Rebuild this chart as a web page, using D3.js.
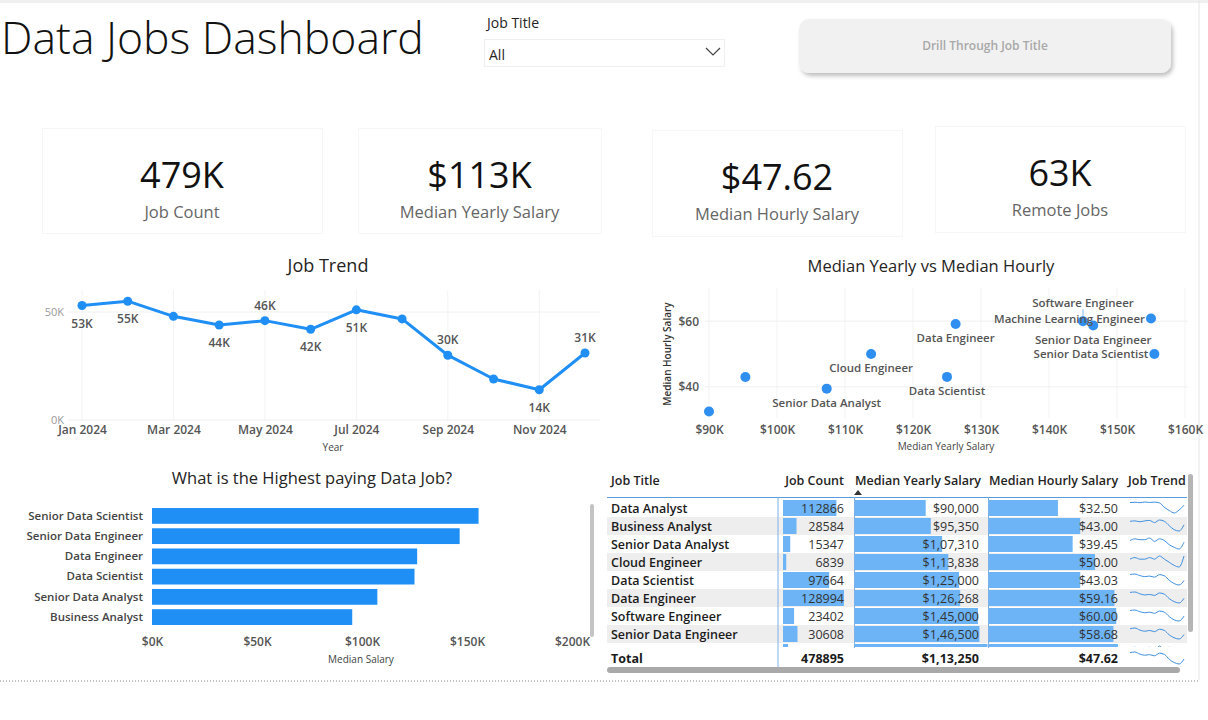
<!DOCTYPE html>
<meta charset="utf-8">
<style>
body { margin: 0; background: #fff; }
svg { font-family: "Open Sans", "Noto Sans", sans-serif; display: block; }
.bold { font-weight: 600; }
</style>
<svg width="1208" height="720"></svg>
<script src="https://cdn.jsdelivr.net/npm/d3@7"></script>
<script>

// ---- data ----
var months = ["Jan 2024","Feb 2024","Mar 2024","Apr 2024","May 2024","Jun 2024",
              "Jul 2024","Aug 2024","Sep 2024","Oct 2024","Nov 2024","Dec 2024"];
var monthlyJobs = [53000, 55000, 48000, 44000, 46000, 42000, 51000, 46800, 30000, 19000, 14000, 31000];
var trendLabelPos = ["below","below",null,"below","above","below","below",null,"above",null,"below","above"];

var kpiValues = ["479K", "$113K", "$47.62", "63K"];
var kpiLabels = ["Job Count", "Median Yearly Salary", "Median Hourly Salary", "Remote Jobs"];

var jobTitles = ["Data Analyst","Business Analyst","Senior Data Analyst","Cloud Engineer","Data Scientist",
                 "Data Engineer","Software Engineer","Senior Data Engineer","Machine Learning Engineer","Senior Data Scientist"];
var jobCount = [112866, 28584, 15347, 6839, 97664, 128994, 23402, 30608, 10573, 24018];
var medianYearly = [90000, 95350, 107310, 113838, 125000, 126268, 145000, 146500, 155000, 155500];
var medianHourly = [32.50, 43.00, 39.45, 50.00, 43.03, 59.16, 60.00, 58.68, 60.80, 50.00];
var yearlyText = ["$90,000","$95,350","$1,07,310","$1,13,838","$1,25,000","$1,26,268","$1,45,000","$1,46,500","$1,55,000","$1,55,500"];
var totalCount = "478895", totalYearly = "$1,13,250", totalHourly = "$47.62";

// sparkline series per row (thousands, Jan..Dec)
var sparkData = [
  [12.5,12.8,12.4,13.0,12.6,12.9,12.2,8.4,5.6,3.4,6.0,10.2],
  [3.2,3.3,3.1,3.3,3.4,2.9,3.5,3.2,2.2,1.3,1.0,2.4],
  [1.6,1.8,1.7,1.7,1.9,1.5,1.8,1.6,1.1,0.8,0.6,1.4],
  [0.7,0.8,0.7,0.7,0.8,0.7,0.9,0.7,0.5,0.3,0.2,0.9],
  [11.0,11.4,10.2,9.4,9.8,9.0,10.9,10.0,6.6,4.1,3.0,6.4],
  [14.6,15.0,13.2,12.0,12.5,11.5,14.0,12.8,8.2,5.2,3.8,8.6],
  [2.6,2.7,2.4,2.2,2.3,2.1,2.5,2.3,1.5,0.9,0.7,1.6],
  [3.4,3.6,3.1,2.8,3.0,2.7,3.3,3.0,1.9,1.2,0.9,2.0],
  [1.2,1.3,1.1,1.2,1.3,1.0,1.4,1.1,1.3,0.6,0.5,1.0],
  [53,55,48,44,46,42,51,46.8,30,19,14,31]
];

var barJobs = ["Senior Data Scientist","Senior Data Engineer","Data Engineer","Data Scientist","Senior Data Analyst","Business Analyst"];
var barSalary = [155500, 146500, 126268, 125000, 107310, 95350];

var blue = "#1f8ff5";
var svg = d3.select("svg");

// ---- page frame ----
svg.append("rect").attr("x", 0).attr("y", 0).attr("width", 1208).attr("height", 3).attr("fill", "#f0f0f0");
svg.append("line").attr("x1", 1199).attr("x2", 1199).attr("y1", 0).attr("y2", 680)
    .attr("stroke", "#e4e4e4");
svg.append("line").attr("x1", 0).attr("x2", 1198).attr("y1", 681).attr("y2", 681)
    .attr("stroke", "#888").attr("stroke-dasharray", "1,2");

// ---- header ----
svg.append("text").attr("x", 1).attr("y", 54)
    .attr("font-size", 44.5).attr("font-weight", 300).attr("fill", "#111")
    .text("Data Jobs Dashboard");

svg.append("text").attr("x", 487).attr("y", 28).attr("font-size", 14).attr("fill", "#252423")
    .text("Job Title");
svg.append("rect").attr("x", 484.5).attr("y", 39.5).attr("width", 240).attr("height", 27)
    .attr("fill", "#fff").attr("stroke", "#efefef");
svg.append("text").attr("x", 489).attr("y", 60).attr("font-size", 14).attr("fill", "#252423").text("All");
svg.append("path").attr("d", "M706,48 L713,55 L720,48").attr("fill", "none")
    .attr("stroke", "#444").attr("stroke-width", 1.2);

var defs = svg.append("defs");
var shadow = defs.append("filter").attr("id", "shadow").attr("x", "-10%").attr("y", "-20%")
    .attr("width", "120%").attr("height", "150%");
shadow.append("feDropShadow").attr("dx", 2).attr("dy", 3).attr("stdDeviation", 2)
    .attr("flood-color", "#000").attr("flood-opacity", 0.25);
svg.append("rect").attr("x", 799).attr("y", 19).attr("width", 372).attr("height", 54).attr("rx", 10)
    .attr("fill", "#f1f1f1").attr("filter", "url(#shadow)");
svg.append("text").attr("x", 985).attr("y", 50).attr("text-anchor", "middle")
    .attr("font-size", 12).attr("font-weight", 600).attr("fill", "#a8a8a8")
    .text("Drill Through Job Title");

// ---- KPI cards ----
var cardBoxes = [[42,128,280,105],[358,128,243,105],[652,130,250,106],[935,126,250,106]];
var cards = svg.selectAll(".card").data(kpiValues).enter().append("g").attr("class", "card");
cards.append("rect")
    .attr("x", function(d, i) { return cardBoxes[i][0] + 0.5; })
    .attr("y", function(d, i) { return cardBoxes[i][1] + 0.5; })
    .attr("width", function(d, i) { return cardBoxes[i][2]; })
    .attr("height", function(d, i) { return cardBoxes[i][3]; })
    .attr("fill", "#fff").attr("stroke", "#f6f6f6");
cards.append("text")
    .attr("x", function(d, i) { return cardBoxes[i][0] + cardBoxes[i][2] / 2; })
    .attr("y", function(d, i) { return cardBoxes[i][1] + 60; })
    .attr("text-anchor", "middle").attr("font-size", 36).attr("fill", "#111")
    .text(function(d) { return d; });
cards.append("text")
    .attr("x", function(d, i) { return cardBoxes[i][0] + cardBoxes[i][2] / 2; })
    .attr("y", function(d, i) { return cardBoxes[i][1] + 90; })
    .attr("text-anchor", "middle").attr("font-size", 16.5).attr("fill", "#666")
    .text(function(d, i) { return kpiLabels[i]; });

// ---- Job Trend line chart ----
var tx = d3.scalePoint().domain(months).range([82, 585]);
var ty = d3.scaleLinear().domain([0, 50000]).range([420, 312]);
var trend = svg.append("g");

trend.append("text").attr("x", 328).attr("y", 272).attr("text-anchor", "middle")
    .attr("font-size", 18).attr("fill", "#252423").text("Job Trend");

trend.selectAll(".vgrid").data(months.filter(function(d, i) { return i % 2 == 0; }))
  .enter().append("line")
    .attr("x1", function(d) { return tx(d); }).attr("x2", function(d) { return tx(d); })
    .attr("y1", 290).attr("y2", 420).attr("stroke", "#f3f3f3");
trend.selectAll(".hgrid").data(ty.ticks(1))
  .enter().append("line")
    .attr("x1", 68).attr("x2", 600)
    .attr("y1", function(d) { return ty(d); }).attr("y2", function(d) { return ty(d); })
    .attr("stroke", "#f0f0f0");

var yAxisT = trend.append("g").attr("transform", "translate(64,0)")
    .call(d3.axisLeft(ty).tickValues([0, 50000]).tickSize(0).tickPadding(0)
      .tickFormat(function(d) { return d / 1000 + "K"; }));
yAxisT.select(".domain").remove();
yAxisT.selectAll("text").attr("font-size", 11).attr("fill", "#9a9a9a")
    .attr("font-family", "Open Sans, sans-serif");

var xAxisT = trend.append("g").attr("transform", "translate(0,425)")
    .call(d3.axisBottom(tx).tickSize(0).tickPadding(0)
      .tickValues(months.filter(function(d, i) { return i % 2 == 0; })));
xAxisT.select(".domain").remove();
xAxisT.selectAll("text").attr("font-size", 12).attr("font-weight", 600).attr("fill", "#555")
    .attr("font-family", "Open Sans, sans-serif");

trend.append("text").attr("x", 333).attr("y", 451).attr("text-anchor", "middle")
    .attr("font-size", 10).attr("fill", "#444").text("Year");

var lineGen = d3.line().x(function(d, i) { return tx(months[i]); }).y(function(d) { return ty(d); });
trend.append("path").datum(monthlyJobs).attr("d", lineGen)
    .attr("fill", "none").attr("stroke", blue).attr("stroke-width", 3).attr("stroke-linejoin", "round");
trend.selectAll(".pt").data(monthlyJobs).enter().append("circle")
    .attr("cx", function(d, i) { return tx(months[i]); }).attr("cy", function(d) { return ty(d); })
    .attr("r", 4.5).attr("fill", blue);
trend.selectAll(".lbl").data(monthlyJobs).enter()
  .filter(function(d, i) { return trendLabelPos[i]; })
  .append("text")
    .attr("x", function(d, i) { return tx(months[monthlyJobs.indexOf(d)]); })
    .attr("y", function(d) { var i = monthlyJobs.indexOf(d);
        return ty(d) + (trendLabelPos[i] == "below" ? 22 : -11); })
    .attr("text-anchor", "middle").attr("font-size", 12).attr("font-weight", 600).attr("fill", "#555")
    .text(function(d) { return Math.round(d / 1000) + "K"; });

// ---- Scatter: Median Yearly vs Median Hourly ----
var sx = d3.scaleLinear().domain([90000, 160000]).range([709, 1185]);
var sy = d3.scaleLinear().domain([30.5, 69.5]).range([418, 290]);
var sc = svg.append("g");

sc.append("text").attr("x", 931).attr("y", 272).attr("text-anchor", "middle")
    .attr("font-size", 16.5).attr("fill", "#252423").text("Median Yearly vs Median Hourly");

sc.selectAll(".vg").data(sx.ticks(7)).enter().append("line")
    .attr("x1", function(d) { return sx(d); }).attr("x2", function(d) { return sx(d); })
    .attr("y1", 288).attr("y2", 418).attr("stroke", "#f3f3f3");
sc.selectAll(".hg").data([40, 60]).enter().append("line")
    .attr("x1", 705).attr("x2", 1188)
    .attr("y1", function(d) { return sy(d); }).attr("y2", function(d) { return sy(d); })
    .attr("stroke", "#f0f0f0");

var sxAxis = sc.append("g").attr("transform", "translate(0,425)")
    .call(d3.axisBottom(sx).ticks(7).tickSize(0).tickPadding(0)
      .tickFormat(function(d) { return "$" + d / 1000 + "K"; }));
sxAxis.select(".domain").remove();
sxAxis.selectAll("text").attr("font-size", 12).attr("font-weight", 600).attr("fill", "#555")
    .attr("font-family", "Open Sans, sans-serif");

var syAxis = sc.append("g").attr("transform", "translate(699,0)")
    .call(d3.axisLeft(sy).tickValues([40, 60]).tickSize(0).tickPadding(0)
      .tickFormat(function(d) { return "$" + d; }));
syAxis.select(".domain").remove();
syAxis.selectAll("text").attr("font-size", 12).attr("font-weight", 600).attr("fill", "#555")
    .attr("font-family", "Open Sans, sans-serif");

sc.append("text").attr("x", 946).attr("y", 450).attr("text-anchor", "middle")
    .attr("font-size", 10).attr("fill", "#444").text("Median Yearly Salary");
sc.append("text").attr("transform", "translate(671,354) rotate(-90)").attr("text-anchor", "middle")
    .attr("font-size", 10).attr("font-weight", 600).attr("fill", "#333").text("Median Hourly Salary");

// label placement: [dx, dy, anchor]
var scatterLabelPlace = {
  "Senior Data Analyst": [0, 18, "middle"],
  "Cloud Engineer": [0, 18, "middle"],
  "Data Engineer": [0, 18, "middle"],
  "Data Scientist": [0, 18, "middle"],
  "Software Engineer": [0, -14, "middle"],
  "Machine Learning Engineer": [-6, 4, "end"],
  "Senior Data Engineer": [0, 18, "middle"],
  "Senior Data Scientist": [-6, 4, "end"]
};
sc.append("line").attr("x1", sx(145000)).attr("x2", sx(145000))
    .attr("y1", sy(60) - 12).attr("y2", sy(60)).attr("stroke", "#6aa8e8").attr("stroke-width", 0.8);
sc.selectAll(".dot").data(jobTitles).enter().append("circle")
    .attr("cx", function(d, i) { return sx(medianYearly[i]); })
    .attr("cy", function(d, i) { return sy(medianHourly[i]); })
    .attr("r", 5).attr("fill", "#2f8ff0");
sc.selectAll(".slbl").data(jobTitles.filter(function(d) { return scatterLabelPlace[d]; }))
  .enter().append("text")
    .attr("x", function(d) { var i = jobTitles.indexOf(d); return sx(medianYearly[i]) + scatterLabelPlace[d][0]; })
    .attr("y", function(d) { var i = jobTitles.indexOf(d); return sy(medianHourly[i]) + scatterLabelPlace[d][1]; })
    .attr("text-anchor", function(d) { return scatterLabelPlace[d][2]; })
    .attr("font-size", 11.5).attr("font-weight", 600).attr("fill", "#555")
    .text(function(d) { return d; });

// ---- Bar chart ----
var bx = d3.scaleLinear().domain([0, 200000]).range([152, 572]);
var by = d3.scaleBand().domain(barJobs).range([506, 627]).paddingInner(0.22).paddingOuter(0.1);
var bc = svg.append("g");

bc.append("text").attr("x", 312).attr("y", 484).attr("text-anchor", "middle")
    .attr("font-size", 16.5).attr("fill", "#252423").text("What is the Highest paying Data Job?");

bc.selectAll(".bar").data(barSalary).enter().append("rect")
    .attr("x", bx(0)).attr("y", function(d, i) { return by(barJobs[i]); })
    .attr("width", function(d) { return bx(d) - bx(0); })
    .attr("height", by.bandwidth()).attr("fill", blue);

var byAxis = bc.append("g").attr("transform", "translate(143,0)")
    .call(d3.axisLeft(by).tickSize(0).tickPadding(0));
byAxis.select(".domain").remove();
byAxis.selectAll("text").attr("font-size", 11.5).attr("font-weight", 600).attr("fill", "#444")
    .attr("font-family", "Open Sans, sans-serif");

var bxAxis = bc.append("g").attr("transform", "translate(0,637)")
    .call(d3.axisBottom(bx).tickValues([0, 50000, 100000, 150000, 200000]).tickSize(0).tickPadding(0)
      .tickFormat(function(d) { return "$" + d / 1000 + "K"; }));
bxAxis.select(".domain").remove();
bxAxis.selectAll("text").attr("font-size", 12).attr("font-weight", 600).attr("fill", "#555")
    .attr("font-family", "Open Sans, sans-serif");
bc.append("text").attr("x", 361).attr("y", 663).attr("text-anchor", "middle")
    .attr("font-size", 10).attr("fill", "#444").text("Median Salary");
bc.append("rect").attr("x", 590).attr("y", 504).attr("width", 4).attr("height", 133).attr("rx", 2)
    .attr("fill", "#c4c4c4");

// ---- Table ----
var tb = svg.append("g").attr("font-size", 12.5);
var rowTop = 499, rowH = 18;
var tLeft = 607, tRight = 1187;
var colCountX = [783, 844], colYearX = [855, 988], colHourX = [989, 1118], colSparkX = [1130, 1184];

var hdr = [["Job Title", 611, "start"], ["Job Count", 844, "end"], ["Median Yearly Salary", 855, "start"],
           ["Median Hourly Salary", 989, "start"], ["Job Trend", 1128, "start"]];
tb.selectAll(".hdr").data(hdr).enter().append("text")
    .attr("x", function(d) { return d[1]; }).attr("y", 485).attr("text-anchor", function(d) { return d[2]; })
    .attr("font-weight", 600).attr("fill", "#252423").attr("font-size", 12.5)
    .text(function(d) { return d[0]; });
tb.append("path").attr("d", "M854,495 l4,-5 l4,5 z").attr("fill", "#333");

// only the first 8 rows fit; the 9th peeks out under them
defs.append("clipPath").attr("id", "rowsClip").append("rect")
    .attr("x", tLeft).attr("y", rowTop - 1).attr("width", tRight - tLeft).attr("height", 149);
var body = tb.append("g").attr("clip-path", "url(#rowsClip)");

var cScale = d3.scaleLinear().domain([0, d3.max(jobCount)]).range([0, colCountX[1] - colCountX[0]]);
var yScale = d3.scaleLinear().domain([15700, d3.max(medianYearly)]).range([0, colYearX[1] - colYearX[0]]);
var hScale = d3.scaleLinear().domain([0, 61.3]).range([0, 130]);
var spX = d3.scaleLinear().domain([0, 11]).range(colSparkX);

var rows = body.selectAll(".row").data(jobTitles.slice(0, 9)).enter().append("g")
    .attr("transform", function(d, i) { return "translate(0," + (rowTop + i * rowH) + ")"; });
rows.append("rect").attr("x", tLeft).attr("width", tRight - tLeft).attr("height", rowH)
    .attr("fill", function(d, i) { return i % 2 ? "#eeeeee" : "#fff"; });
rows.append("rect").attr("x", colCountX[0]).attr("y", 1).attr("height", rowH - 2)
    .attr("width", function(d, i) { return cScale(jobCount[i]); }).attr("fill", "#6cb4f6");
rows.append("rect").attr("x", colYearX[0]).attr("y", 1).attr("height", rowH - 2)
    .attr("width", function(d, i) { return yScale(medianYearly[i]); }).attr("fill", "#6cb4f6");
rows.append("rect").attr("x", colHourX[0]).attr("y", 1).attr("height", rowH - 2)
    .attr("width", function(d, i) { return hScale(medianHourly[i]); }).attr("fill", "#6cb4f6");
rows.append("text").attr("x", 611).attr("y", 13.5).attr("font-weight", 600).attr("fill", "#1b1b1b")
    .text(function(d) { return d; });
rows.append("text").attr("x", 844).attr("y", 13.5).attr("text-anchor", "end").attr("fill", "#333")
    .text(function(d, i) { return jobCount[i]; });
rows.append("text").attr("x", 979).attr("y", 13.5).attr("text-anchor", "end").attr("fill", "#333")
    .text(function(d, i) { return yearlyText[i]; });
rows.append("text").attr("x", 1118).attr("y", 13.5).attr("text-anchor", "end").attr("fill", "#333")
    .text(function(d, i) { return "$" + medianHourly[i].toFixed(2); });
rows.append("path")
    .attr("d", function(d, i) {
        var s = sparkData[i];
        var yy = d3.scaleLinear().domain(d3.extent(s)).range([14, 3]);
        return d3.line().curve(d3.curveMonotoneX).x(function(v, k) { return spX(k); }).y(function(v) { return yy(v); })(s);
    })
    .attr("fill", "none").attr("stroke", "#3d8fe0").attr("stroke-width", 1);

// total row
var totalTop = 649;
tb.append("rect").attr("x", tLeft).attr("y", totalTop).attr("width", tRight - tLeft).attr("height", rowH).attr("fill", "#fff");
tb.append("text").attr("x", 611).attr("y", totalTop + 14).attr("font-weight", 700).attr("fill", "#1b1b1b").text("Total");
tb.append("text").attr("x", 844).attr("y", totalTop + 14).attr("text-anchor", "end").attr("font-weight", 700)
    .attr("fill", "#1b1b1b").text(totalCount);
tb.append("text").attr("x", 979).attr("y", totalTop + 14).attr("text-anchor", "end").attr("font-weight", 700)
    .attr("fill", "#1b1b1b").text(totalYearly);
tb.append("text").attr("x", 1118).attr("y", totalTop + 14).attr("text-anchor", "end").attr("font-weight", 700)
    .attr("fill", "#1b1b1b").text(totalHourly);
(function() {
    var s = sparkData[sparkData.length - 1];
    var yy = d3.scaleLinear().domain(d3.extent(s)).range([totalTop + 15, totalTop + 3]);
    tb.append("path").attr("d", d3.line().curve(d3.curveMonotoneX)
        .x(function(v, k) { return spX(k); }).y(function(v) { return yy(v); })(s))
      .attr("fill", "none").attr("stroke", "#3d8fe0").attr("stroke-width", 1);
})();

// grid lines
tb.append("line").attr("x1", tLeft).attr("x2", tRight).attr("y1", 497.5).attr("y2", 497.5)
    .attr("stroke", "#5b9be0").attr("stroke-width", 1);
[778, 854.5, 988.5].forEach(function(x) {
    tb.append("line").attr("x1", x).attr("x2", x).attr("y1", 497).attr("y2", 648)
      .attr("stroke", "#7fb0e6").attr("stroke-width", 1);
});
tb.append("line").attr("x1", 778).attr("x2", 778).attr("y1", 648).attr("y2", 668)
    .attr("stroke", "#7fb0e6").attr("stroke-width", 1);

// scrollbars
tb.append("rect").attr("x", 1188).attr("y", 474).attr("width", 5).attr("height", 158).attr("rx", 2.5).attr("fill", "#b5b5b5");
tb.append("rect").attr("x", 607).attr("y", 667).attr("width", 573).attr("height", 6).attr("rx", 3).attr("fill", "#a9a9a9");
</script>
